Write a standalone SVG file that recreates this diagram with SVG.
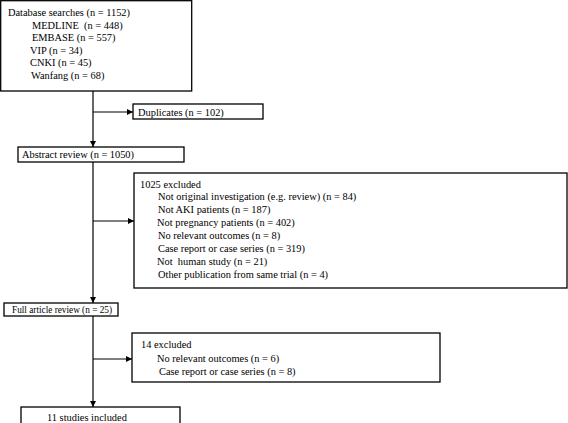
<svg xmlns="http://www.w3.org/2000/svg" width="568" height="423" viewBox="0 0 568 423">
<style>
.box{fill:#fff;stroke:#000;stroke-width:1.3}
.t{font-family:"Liberation Serif","Times New Roman",serif;font-size:10.4px;fill:#000;white-space:pre}
.ln{stroke:#000;stroke-width:1.2;fill:none}
</style>
<defs>
<marker id="ah" viewBox="0 0 10 10" refX="10" refY="5" markerWidth="6" markerHeight="6" orient="auto" markerUnits="userSpaceOnUse">
<path d="M0,0 L10,5 L0,10 z" fill="#000"/>
</marker>
</defs>
<rect width="568" height="423" fill="#fff"/>
<g id="connectors">
<line class="ln" x1="93" y1="91" x2="93" y2="147" marker-end="url(#ah)"/>
<line class="ln" x1="93" y1="112" x2="133" y2="112" marker-end="url(#ah)"/>
<line class="ln" x1="93" y1="162" x2="93" y2="303" marker-end="url(#ah)"/>
<line class="ln" x1="93" y1="221" x2="134" y2="221" marker-end="url(#ah)"/>
<line class="ln" x1="93" y1="316" x2="93" y2="407" marker-end="url(#ah)"/>
<line class="ln" x1="93" y1="359" x2="132" y2="359" marker-end="url(#ah)"/>
</g>
<g id="database">
<rect class="box" x="0.7" y="0.7" width="191" height="90.3"/>
<text class="t" x="8" y="16">Database searches (n = 1152)</text>
<text class="t" x="32" y="29">MEDLINE  (n = 448)</text>
<text class="t" x="32" y="41">EMBASE (n = 557)</text>
<text class="t" x="30" y="54">VIP (n = 34)</text>
<text class="t" x="30" y="66">CNKI (n = 45)</text>
<text class="t" x="31" y="79">Wanfang (n = 68)</text>
</g>
<g id="duplicates">
<rect class="box" x="133" y="104" width="130" height="15"/>
<text class="t" x="138" y="115.5">Duplicates (n = 102)</text>
</g>
<g id="abstract">
<rect class="box" x="18" y="147" width="166" height="15"/>
<text class="t" x="22" y="158" textLength="112" lengthAdjust="spacing">Abstract review (n = 1050)</text>
</g>
<g id="excluded1">
<rect class="box" x="134" y="173" width="433" height="115"/>
<text class="t" x="140" y="188">1025 excluded</text>
<text class="t" x="158" y="199.5">Not original investigation (e.g. review) (n = 84)</text>
<text class="t" x="158" y="212.5">Not AKI patients (n = 187)</text>
<text class="t" x="157" y="225.5">Not pregnancy patients (n = 402)</text>
<text class="t" x="158" y="239">No relevant outcomes (n = 8)</text>
<text class="t" x="158" y="252">Case report or case series (n = 319)</text>
<text class="t" x="157" y="264.5">Not  human study (n = 21)</text>
<text class="t" x="158" y="278">Other publication from same trial (n = 4)</text>
</g>
<g id="fullarticle">
<rect class="box" x="4" y="303" width="114" height="13"/>
<text class="t" x="12" y="313" style="font-size:10px" textLength="100" lengthAdjust="spacingAndGlyphs">Full article review (n = 25)</text>
</g>
<g id="excluded2">
<rect class="box" x="132" y="333" width="308" height="49"/>
<text class="t" x="141" y="348">14 excluded</text>
<text class="t" x="157" y="361.5">No relevant outcomes (n = 6)</text>
<text class="t" x="159" y="375">Case report or case series (n = 8)</text>
</g>
<g id="included">
<rect class="box" x="21" y="407" width="159" height="20"/>
<text class="t" x="47" y="421">11 studies included</text>
</g>
</svg>
